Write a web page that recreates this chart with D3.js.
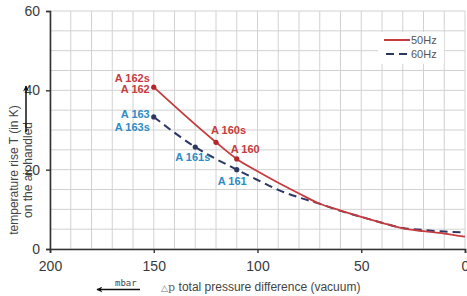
<!DOCTYPE html>
<html>
<head>
<meta charset="utf-8">
<script src="https://cdn.jsdelivr.net/npm/d3@7"></script>
<style>
  body { margin: 0; background: #fff; }
  svg { display: block; font-family: Arial, "Liberation Sans", sans-serif; }
</style>
</head>
<body>
<div id="chart"></div>
<script>
// pressure difference (mbar) and temperature rise (K)
const p50 = [150, 120, 110, 100, 90, 80, 70, 60, 50, 40, 30, 20, 10, 0]
const t50 = [40.8, 26.9, 22.7, 19.6, 16.7, 14.0, 11.4, 9.7, 8.1, 6.6, 5.2, 4.5, 3.9, 3.1]
const p60 = [150, 130, 110, 100, 90, 80, 70, 60, 50, 40, 30, 20, 10, 0]
const t60 = [33.3, 25.7, 20.0, 17.4, 14.9, 13.0, 11.4, 9.6, 8.1, 6.6, 5.3, 4.8, 4.4, 4.2]

// marked operating points
const marks50 = [150, 120, 110]
const marks60 = [150, 130, 110]
const names50 = [["A 162s", "A 162"], ["A 160s"], ["A 160"]]
const names60 = [["A 163", "A 163s"], ["A 161s"], ["A 161"]]

const xTicks = [200, 150, 100, 50, 0]
const yTicks = [0, 20, 40, 60]
const seriesNames = ["50Hz", "60Hz"]

const W = 467, H = 296
const m = {top: 11, right: 2, bottom: 47, left: 50}
const red = "#c63b3d", navy = "#2d3862", blue = "#2e8cc4"

const svg = d3.select("#chart").append("svg")
    .attr("width", W)
    .attr("height", H)

const x = d3.scaleLinear().domain([200, 0]).range([m.left, W - m.right])
const y = d3.scaleLinear().domain([0, 60]).range([H - m.bottom, m.top])

// grid
svg.append("g")
    .selectAll("line")
    .data(d3.range(0, 201, 10))
    .join("line")
    .attr("x1", d => x(d)).attr("x2", d => x(d))
    .attr("y1", y(0)).attr("y2", y(60))
    .attr("stroke", "#d2d2d2")
svg.append("g")
    .selectAll("line")
    .data(d3.range(0, 61, 5))
    .join("line")
    .attr("x1", x(200)).attr("x2", x(0))
    .attr("y1", d => y(d)).attr("y2", d => y(d))
    .attr("stroke", "#d2d2d2")

// axes
const yAxis = svg.append("g")
    .attr("transform", `translate(${m.left},0)`)
    .call(d3.axisLeft(y).tickValues(yTicks).tickSize(4).tickPadding(6))
const xAxis = svg.append("g")
    .attr("transform", `translate(0,${H - m.bottom})`)
    .call(d3.axisBottom(x).tickValues(xTicks).tickSize(4).tickPadding(8))
;[xAxis, yAxis].forEach(g => {
    g.select(".domain").attr("stroke", "#333").attr("stroke-width", 1.6)
    g.selectAll(".tick line").attr("stroke", "#333").attr("stroke-width", 1.4)
    g.selectAll(".tick text").attr("fill", "#3a3a3a").style("font-size", "14px")
        .style("font-family", "Arial, 'Liberation Sans', sans-serif")
})

// curves
const line = d3.line()
    .x(d => x(d[0]))
    .y(d => y(d[1]))
    .curve(d3.curveMonotoneX)

svg.append("path")
    .datum(d3.zip(p60, t60))
    .attr("fill", "none")
    .attr("stroke", navy)
    .attr("stroke-width", 2)
    .attr("stroke-dasharray", "8,5")
    .attr("d", line)
svg.append("path")
    .datum(d3.zip(p50, t50))
    .attr("fill", "none")
    .attr("stroke", red)
    .attr("stroke-width", 1.8)
    .attr("d", line)

// markers
svg.append("g").selectAll("circle")
    .data(marks50)
    .join("circle")
    .attr("cx", d => x(d))
    .attr("cy", d => y(t50[p50.indexOf(d)]))
    .attr("r", 2.6)
    .attr("fill", "#b3262c")
svg.append("g").selectAll("circle")
    .data(marks60)
    .join("circle")
    .attr("cx", d => x(d))
    .attr("cy", d => y(t60[p60.indexOf(d)]))
    .attr("r", 2.6)
    .attr("fill", navy)

// point labels: offsets from the marker, per label
const off50 = [{dx: -4, dy: [-9, 2], anchor: "end"}, {dx: -5, dy: [-12], anchor: "start"}, {dx: -6, dy: [-10], anchor: "start"}]
const off60 = [{dx: -4, dy: [-3, 10], anchor: "end"}, {dx: -20, dy: [10], anchor: "start"}, {dx: -19, dy: [11], anchor: "start"}]

function pointLabels(marks, ps, ts, names, offs, color) {
    marks.forEach((p, i) => {
        const px = x(p), py = y(ts[ps.indexOf(p)])
        names[i].forEach((txt, j) => {
            svg.append("text")
                .attr("x", px + offs[i].dx)
                .attr("y", py + offs[i].dy[j])
                .attr("dy", "0.35em")
                .attr("text-anchor", offs[i].anchor)
                .attr("fill", color)
                .style("font-size", "11px")
                .style("font-weight", "bold")
                .text(txt)
        })
    })
}
pointLabels(marks50, p50, t50, names50, off50, red)
pointLabels(marks60, p60, t60, names60, off60, blue)

// legend
const lg = svg.append("g")
lg.append("rect")
    .attr("x", 378).attr("y", 32)
    .attr("width", 66).attr("height", 32)
    .attr("fill", "#fff")
seriesNames.forEach((s, i) => {
    lg.append("line")
        .attr("x1", i === 0 ? 384 : 386).attr("x2", i === 0 ? 410 : 407)
        .attr("y1", 40 + i * 14).attr("y2", 40 + i * 14)
        .attr("stroke", i === 0 ? red : navy)
        .attr("stroke-width", 2)
        .attr("stroke-dasharray", i === 0 ? null : "8,5")
    lg.append("text")
        .attr("x", 411).attr("y", 40 + i * 14)
        .attr("dy", "0.35em")
        .attr("fill", "#555")
        .style("font-size", "11px")
        .text(s)
})

// arrow marker
svg.append("defs").append("marker")
    .attr("id", "arr")
    .attr("viewBox", "0 0 10 10")
    .attr("refX", 9).attr("refY", 5)
    .attr("markerWidth", 7).attr("markerHeight", 6)
    .attr("markerUnits", "userSpaceOnUse")
    .attr("orient", "auto")
    .append("path")
    .attr("d", "M0,0 L10,5 L0,10 L3,5 Z")
    .attr("fill", "#111")

// y title
const yt = svg.append("text")
    .attr("transform", "translate(18,170) rotate(-90)")
    .attr("text-anchor", "middle")
    .attr("fill", "#444")
    .style("font-size", "12px")
yt.append("tspan").attr("x", 0).attr("dy", 0).text("temperature rise T (in K)")
yt.append("tspan").attr("x", 0).attr("dy", 14).text("on the air handled")

svg.append("line")
    .attr("x1", 26).attr("x2", 26)
    .attr("y1", 132).attr("y2", 86)
    .attr("stroke", "#111")
    .attr("stroke-width", 1.5)
    .attr("marker-end", "url(#arr)")

// x title
const xt = svg.append("text")
    .attr("x", 161).attr("y", 291)
    .attr("fill", "#444")
    .style("font-size", "12px")
xt.append("tspan").style("font-size", "9px").attr("fill", "#777").text("\u25B3")
xt.append("tspan").style("font-family", "'DejaVu Serif', serif").style("font-size", "11px").attr("fill", "#666").text("p ")
xt.append("tspan").text("total pressure difference (vacuum)")

svg.append("text")
    .attr("x", 115).attr("y", 286)
    .attr("fill", "#444")
    .style("font-family", "'DejaVu Sans Mono', 'Liberation Mono', monospace")
    .style("font-size", "9px")
    .text("mbar")
svg.append("line")
    .attr("x1", 140).attr("x2", 97)
    .attr("y1", 289.5).attr("y2", 289.5)
    .attr("stroke", "#111")
    .attr("stroke-width", 1.3)
    .attr("marker-end", "url(#arr)")
</script>
</body>
</html>
